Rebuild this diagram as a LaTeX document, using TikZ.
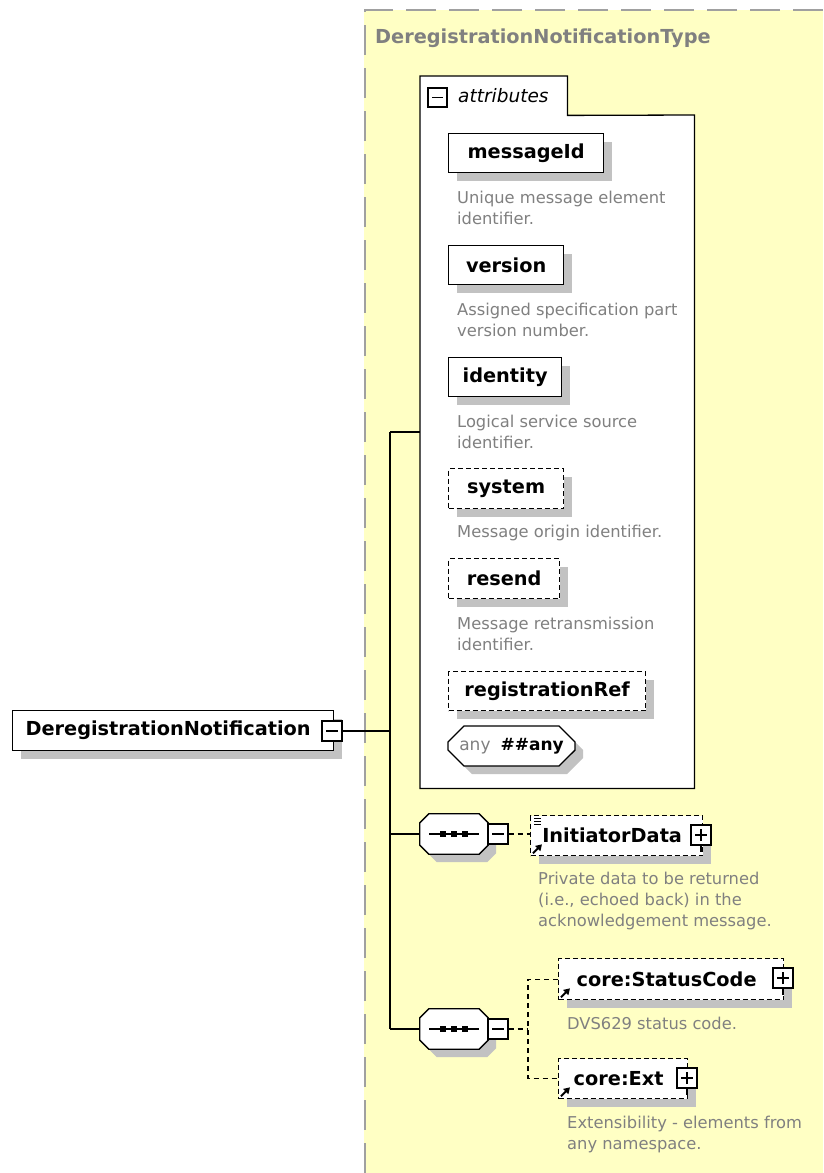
\documentclass[tikz,border=0pt]{standalone}
\usepackage{fontspec}
\setmainfont{DejaVu Sans}
\usetikzlibrary{shapes.misc,shadows,arrows.meta}

\definecolor{typebg}{HTML}{FFFFC4}
\definecolor{framegray}{HTML}{A0A0A0}
\definecolor{shadowgray}{HTML}{C2C2C2}
\definecolor{notegray}{HTML}{808080}

\newcommand\elemfont{\fontsize{19.3}{23}\selectfont\bfseries}
\newcommand\notefont{\fontsize{16.3}{21}\selectfont}
\newcommand\tabfont{\fontsize{18.5}{22}\selectfont\itshape}
\newcommand\anyfont{\fontsize{17}{20}\selectfont}

% octagonal outline of a sequence compositor, built on the anchors of node #1
\newcommand\seqoutline[1]{([xshift=9pt]#1.north west) -- ([xshift=-9pt]#1.north east)
  -- ([yshift=-9pt]#1.north east) -- ([yshift=9pt]#1.south east)
  -- ([xshift=-9pt]#1.south east) -- ([xshift=9pt]#1.south west)
  -- ([yshift=9pt]#1.south west) -- ([yshift=-9pt]#1.north west) -- cycle}
% sequence symbol: shadowed octagon with a dotted bar inside
\newcommand\drawsequence[1]{%
  \draw[shadowed, line width=1.3pt, fill=white] \seqoutline{#1};
  \draw[line width=1.3pt] ([xshift=-25pt]#1.center) -- ([xshift=25pt]#1.center);
  \fill ([xshift=-11pt]#1.center) +(-3,-3) rectangle +(3,3);
  \fill (#1.center) +(-3,-3) rectangle +(3,3);
  \fill ([xshift=11pt]#1.center) +(-3,-3) rectangle +(3,3);}

\tikzset{
  shadowed/.style={general shadow={fill=shadowgray, shadow xshift=8pt, shadow yshift=-8pt}},
  elem/.style={shadowed, draw, line width=1.3pt, fill=white, font=\elemfont,
    inner sep=0pt, anchor=north west, minimum height=40pt},
  optional/.style={dash pattern=on 5pt off 3pt},
  note/.style={anchor=west, inner sep=0pt, align=left, font=\notefont, text=notegray},
  minusbox/.style={draw, fill=white, line width=1.2pt, minimum size=20pt, inner sep=0pt,
    path picture={\draw[line width=1.2pt] ([xshift=4pt]path picture bounding box.west)
      -- ([xshift=-4pt]path picture bounding box.east);}},
  plusbox/.style={draw, fill=white, line width=1.2pt, minimum size=20pt, inner sep=0pt,
    path picture={\draw[line width=1.2pt] ([xshift=4pt]path picture bounding box.west)
      -- ([xshift=-4pt]path picture bounding box.east);
      \draw[line width=1.2pt] ([yshift=4pt]path picture bounding box.south)
      -- ([yshift=-4pt]path picture bounding box.north);}},
  seqframe/.style={minimum width=68pt, minimum height=40pt, inner sep=0pt},
  conn/.style={line width=1.2pt},
  dconn/.style={line width=1.2pt, dash pattern=on 5pt off 4pt},
  refarrow/.style={line width=2pt, -{Triangle[length=6pt,width=7pt]}},
}

\begin{document}
\begin{tikzpicture}[x=1pt,y=-1pt]
\useasboundingbox (0,0) rectangle (823,1173);

% complex type area
\fill[typebg] (364,10) rectangle (823,1173);
\draw[framegray, line width=2pt, dash pattern=on 30pt off 13pt] (823,10) -- (365,10) -- (365,1173);
\node[anchor=west, inner sep=0pt, font=\elemfont, text=notegray] (title) at (375,38) {DeregistrationNotificationType};

% attributes container
\node[anchor=north west, minimum width=147pt, minimum height=39pt, inner sep=0pt] (attrtab) at (420,76) {};
\node[anchor=north west, minimum width=274pt, minimum height=673pt, inner sep=0pt] (attrbody) at (420,115) {};
\draw[line width=1.3pt, fill=white] (attrtab.north west) -- (attrtab.north east) -- (attrtab.south east)
  -- (attrbody.north east) -- (attrbody.south east) -- (attrbody.south west) -- cycle;
\node[minusbox, minimum size=19pt] (attrtoggle) at (437.5,97.5) {};
\node[anchor=west, inner sep=0pt, font=\tabfont] (attrlabel) at (458,96) {attributes};

% attributes
\node[elem, minimum width=155pt, minimum height=39pt] (messageId) at (448,133) {messageId};
\node[note] (messageIdnote) at (457,208) {Unique message element\\identifier.};
\node[elem, minimum width=115pt, minimum height=39pt] (version) at (448,245) {version};
\node[note] (versionnote) at (457,319.5) {Assigned specification part\\version number.};
\node[elem, minimum width=113pt, minimum height=39pt] (identity) at (448,357) {identity};
\node[note] (identitynote) at (457,432) {Logical service source\\identifier.};
\node[elem, optional, minimum width=115pt] (system) at (448,468) {system};
\node[note] (systemnote) at (457,533) {Message origin identifier.};
\node[elem, optional, minimum width=111pt] (resend) at (448,558) {resend};
\node[note] (resendnote) at (457,633.5) {Message retransmission\\identifier.};
\node[elem, optional, minimum width=197pt, minimum height=39pt] (registrationRef) at (448,671) {registrationRef};
\node[shadowed, chamfered rectangle, chamfered rectangle xsep=8pt, chamfered rectangle ysep=8pt,
  draw, line width=1.3pt, fill=white, minimum width=127pt, minimum height=40pt, inner sep=0pt,
  font=\anyfont] (anyattr) at (511.5,746)
  {{\color{notegray}any}\hspace{10pt}{\bfseries\#\#any}};

% root element
\node[elem, minimum width=321pt] (root) at (12,710) {DeregistrationNotification\kern10pt};
\node[minusbox] (roottoggle) at (332,731) {};

% sequences
\node[seqframe] (seqA) at (454,834) {};
\drawsequence{seqA}
\node[minusbox] (seqAtoggle) at (498,834) {};
\node[seqframe] (seqB) at (454,1029) {};
\drawsequence{seqB}
\node[minusbox] (seqBtoggle) at (498,1029) {};

% child elements
\node[elem, optional, minimum width=172pt] (initiator) at (530,815) {InitiatorData\kern9pt};
\draw[line width=1.2pt] (701,845) -- (701,852);
\node[plusbox] (initiatortoggle) at (701,835) {};
\foreach \dy in {3,6,9}
  \draw[line width=0.9pt] ([shift={(4pt,-\dy pt)}]initiator.north west) -- ++(7,0);
\draw[refarrow] ([shift={(3pt,3pt)}]initiator.south west) -- ++(9,-9);
\node[note] (initiatornote) at (538,901) {Private data to be returned\\(i.e., echoed back) in the\\acknowledgement message.};

\node[elem, optional, minimum width=225pt, minimum height=41pt] (status) at (558,958) {core:StatusCode\kern9pt};
\draw[line width=1.2pt] (783,988) -- (783,995);
\node[plusbox] (statustoggle) at (783,978) {};
\draw[refarrow] ([shift={(3pt,3pt)}]status.south west) -- ++(9,-9);
\node[note] (statusnote) at (567,1023) {DVS629 status code.};

\node[elem, optional, minimum width=129pt] (ext) at (558,1058) {core:Ext\kern9pt};
\draw[line width=1.2pt] (687,1088) -- (687,1095);
\node[plusbox] (exttoggle) at (687,1078) {};
\draw[refarrow] ([shift={(3pt,3pt)}]ext.south west) -- ++(9,-9);
\node[note] (extnote) at (567,1134) {Extensibility - elements from\\any namespace.};

% connectors
\coordinate (jRoot) at (390,731);
\coordinate (jAttr) at (390,432);
\coordinate (jSeqB) at (390,1029);
\coordinate (fork) at (528,1029);
\draw[conn] (roottoggle.east) -- (jRoot);
\draw[conn] (jAttr) -- (jSeqB);
\draw[conn] (jAttr) -- (jAttr -| attrbody.west);
\draw[conn] (jAttr |- seqA.west) -- (seqA.west);
\draw[conn] (jSeqB) -- (seqB.west);
\draw[dconn] (seqAtoggle.east) -- (seqAtoggle.east -| initiator.west);
\draw[dconn] (seqBtoggle.east) -- (fork);
\draw[dconn] (status.west) -| (fork) |- (ext.west);
\end{tikzpicture}
\end{document}
